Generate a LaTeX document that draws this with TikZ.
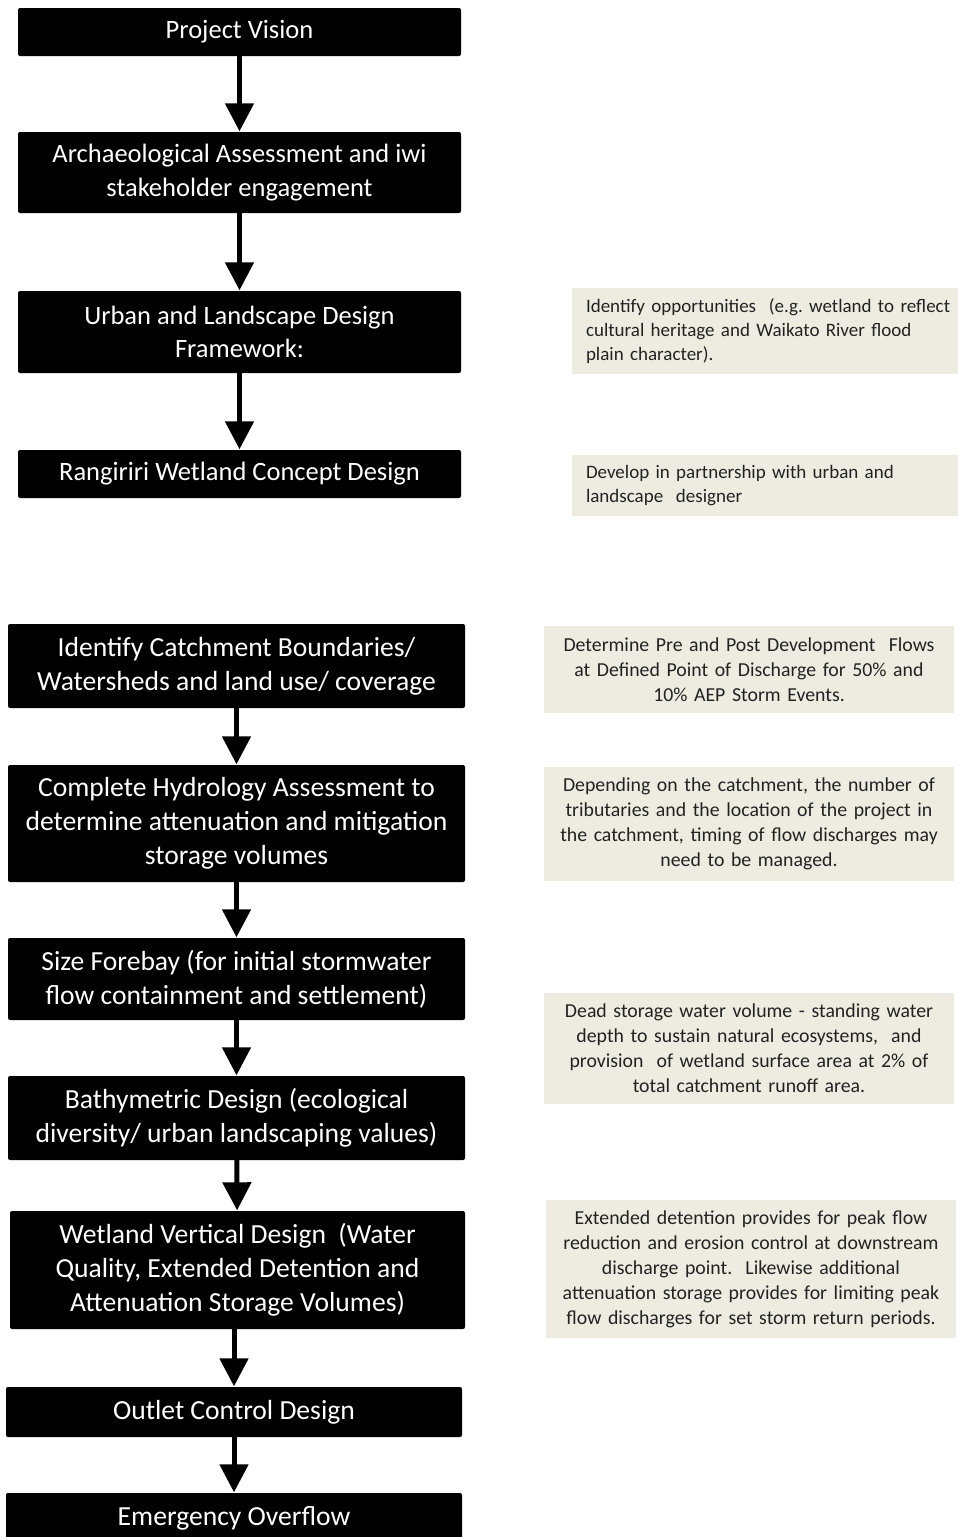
\documentclass[tikz,border=0pt]{standalone}
\usepackage{fontspec}
\setmainfont{Carlito}
\usetikzlibrary{arrows.meta}
\definecolor{notefill}{HTML}{EEECE1}
\definecolor{notetext}{HTML}{222222}
\frenchspacing
\tikzset{
  stepbox/.style={fill=black, draw=none, rounded corners=2pt, text=white, align=center, inner sep=0pt,
    font=\fontsize{26.5}{33.5}\selectfont},
  stepboxb/.style={stepbox, font=\fontsize{27.6}{34}\selectfont},
  notebox/.style={fill=notefill, draw=none, text=notetext, inner xsep=14pt, inner ysep=0pt,
    font=\fontsize{19}{24}\selectfont},
  noteboxb/.style={notebox, font=\fontsize{19.8}{25}\selectfont},
  arr/.style={line width=5pt, -{Triangle[width=28pt,length=28pt]}, shorten >=0.5pt}
}
\begin{document}
\begin{tikzpicture}[x=1pt,y=-1pt]
\useasboundingbox (0,0) rectangle (958,1537);
\fill[white] (0,0) rectangle (958,1537);
% steps
\node[stepbox, minimum width=443pt, minimum height=48pt] (b1) at (239.5,32) {Project Vision};
\node[stepbox, minimum width=443pt, minimum height=81pt] (b2) at (239.5,172.5) {Archaeological Assessment and iwi\\stakeholder engagement};
\node[stepbox, minimum width=443pt, minimum height=82pt] (b3) at (239.5,332) {Urban and Landscape Design\\Framework:};
\node[stepbox, minimum width=443pt, minimum height=48pt] (b4) at (239.5,474) {Rangiriri Wetland Concept Design};
\node[stepboxb, minimum width=457pt, minimum height=84pt] (b5) at (236.5,666) {Identify Catchment Boundaries/\\Watersheds and land use/ coverage};
\node[stepboxb, minimum width=457pt, minimum height=117pt] (b6) at (236.5,823.5) {Complete Hydrology Assessment to\\determine attenuation and mitigation\\storage volumes};
\node[stepboxb, minimum width=457pt, minimum height=82pt] (b7) at (236.5,979) {Size Forebay (for initial stormwater\\flow containment and settlement)};
\node[stepboxb, minimum width=457pt, minimum height=84pt] (b8) at (236.5,1118) {Bathymetric Design (ecological\\diversity/ urban landscaping values)};
\node[stepboxb, minimum width=455pt, minimum height=118pt] (b9) at (237.5,1270) {Wetland Vertical Design~ (Water\\Quality, Extended Detention and\\Attenuation Storage Volumes)};
\node[stepboxb, minimum width=456pt, minimum height=50pt] (b10) at (234,1412) {Outlet Control Design};
\node[stepboxb, minimum width=456pt, minimum height=50pt] (b11) at (234,1518) {Emergency Overflow};
% notes
\node[notebox, align=left, text width=358pt, minimum height=86pt] (n1) at (765,331) {\mbox{Identify opportunities~ (e.g. wetland to reflect}\\cultural heritage and Waikato River flood\\plain character).};
\node[notebox, align=left, text width=358pt, minimum height=61pt] (n2) at (765,485.5) {Develop in partnership with urban and\\landscape~ designer};
\node[noteboxb, align=center, text width=382pt, minimum height=87pt] (n3) at (749,669.5) {Determine Pre and Post Development~ Flows\\at Defined Point of Discharge for 50\% and\\10\% AEP Storm Events.};
\node[noteboxb, align=center, text width=382pt, minimum height=114pt] (n4) at (749,824) {Depending on the catchment, the number of\\tributaries and the location of the project in\\the catchment, timing of flow discharges may\\need to be managed.};
\node[noteboxb, align=center, text width=382pt, minimum height=111pt] (n5) at (749,1048.5) {Dead storage water volume - standing water\\depth to sustain natural ecosystems,~ and\\provision~ of wetland surface area at 2\% of\\total catchment runoff area.};
\node[noteboxb, align=center, text width=382pt, minimum height=138pt] (n6) at (751,1269) {Extended detention provides for peak flow\\reduction and erosion control at downstream\\discharge point.~ Likewise additional\\attenuation storage provides for limiting peak\\flow discharges for set storm return periods.};
% arrows
\draw[arr] (b1) -- (b2);
\draw[arr] (b2) -- (b3);
\draw[arr] (b3) -- (b4);
\draw[arr] (b5) -- (b6);
\draw[arr] (b6) -- (b7);
\draw[arr] (b7) -- (b8);
\draw[arr] (b8) -- (b9);
\draw[arr] (b9.south -| b10.north) -- (b10);
\draw[arr] (b10) -- (b11);
\end{tikzpicture}
\end{document}
